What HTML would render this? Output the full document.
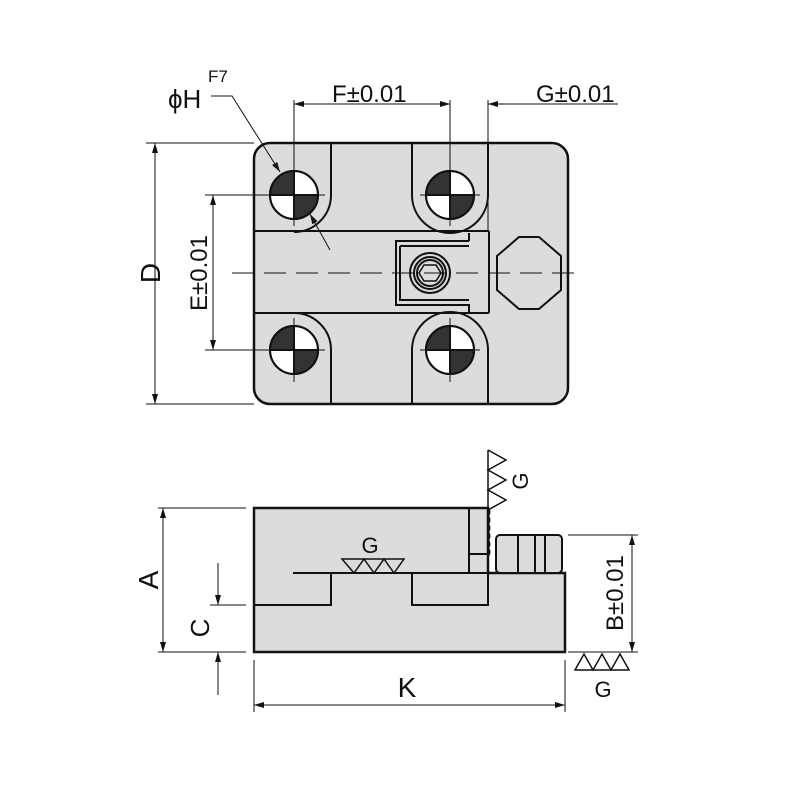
<!DOCTYPE html>
<html><head><style>body{margin:0;background:#fff}svg{display:block}text{font-family:"Liberation Sans",sans-serif;fill:#111}</style></head><body>
<svg width="800" height="800" viewBox="0 0 800 800" xmlns="http://www.w3.org/2000/svg">
<defs>
<marker id="a" viewBox="0 0 10 6" refX="10" refY="3" markerWidth="16" markerHeight="6" markerUnits="userSpaceOnUse" orient="auto-start-reverse"><path d="M0,0L10,3L0,6z" fill="#111"/></marker>
<g id="h" stroke="#111" stroke-width="2"><circle cx="0" cy="0" r="24" fill="#fff"/><path d="M-24,0A24,24 0 0 1 0,-24V0z" fill="#333"/><path d="M24,0A24,24 0 0 1 0,24V0z" fill="#333"/><circle cx="0" cy="0" r="24" fill="none"/></g>
</defs>
<g stroke="#111" fill="none">
<rect x="254" y="143" width="314" height="261" rx="16" fill="#dcdcdc" stroke-width="2.5"/>
<g stroke-width="2">
<path d="M331,143V195A37,37 0 0 1 294,232"/>
<path d="M412,143V195A38,38 0 0 0 488,195V143"/>
<path d="M254,231H489M254,313H489M489,231V313"/>
<path d="M331,404V350A37,37 0 0 0 294,313"/>
<path d="M412,404V350A38,38 0 0 1 488,350V404"/>
<path d="M469,241H396V305H469V313M469,241V233"/>
<path d="M400,246H469M400,246V300H469"/>
<circle cx="430" cy="273" r="20"/><circle cx="430" cy="273" r="16"/><circle cx="430" cy="273" r="13"/>
<path d="M419,273l5,-8h12l5,8l-5,8h-12z" stroke-width="1.5"/>
<path d="M519,237H539L561,256V290L539,309H519L497,290V256z"/>
</g>
</g>
<use href="#h" x="294" y="195"/><use href="#h" x="450" y="195"/><use href="#h" x="294" y="350"/><use href="#h" x="450" y="350"/>
<g stroke="#111" fill="none">
<g stroke-width="1">
<path d="M294,100V226M450,100V226M488,100V230M264,195H325M420,195H480M264,350H325M420,350H480M294,318V382M450,318V382"/>
<path d="M232,273H575" stroke-dasharray="22,10"/>
<path d="M146,143H254M146,404H254M205,195H264M205,350H264"/>
<path d="M155,143V404" marker-start="url(#a)" marker-end="url(#a)"/>
<path d="M213,195V350" marker-start="url(#a)" marker-end="url(#a)"/>
<path d="M294,104H450" marker-start="url(#a)" marker-end="url(#a)"/>
<path d="M618,104H488" marker-end="url(#a)"/>
<path d="M211,96H232L280,172" marker-end="url(#a)"/>
<path d="M330,250L310,214" marker-end="url(#a)"/>
</g>
<path d="M254,508H488V573H565V652H254z" fill="#dcdcdc" stroke-width="2.5"/>
<g stroke-width="2">
<path d="M293,573H565M254,605H331V573M412,573V605H488V573M469,508V573M469,554H488"/>
<rect x="496" y="535" width="66" height="38" rx="4" fill="#dcdcdc"/>
<path d="M518,535V573M535,535V573M545,535V573"/>
<path d="M488,508q3,4 0,8q3,4 0,8q3,4 0,8q3,4 0,8q3,4 0,8q3,4 0,8"/>
</g>
<g stroke-width="1.5">
<path d="M342,559h62l-10,14l-10,-14l-10,14l-10,-14l-10,14z"/>
<path d="M488,508V450M488,450l18,10l-18,10l18,10l-18,10l18,10l-18,10"/>
<path d="M575,670h54l-9,-16l-9,16l-9,-16l-9,16l-9,-16z"/>
</g>
<g stroke-width="1">
<path d="M158,508H246M158,652H246M210,605H246M254,660V712M565,660V712M568,535H638M568,652H638"/>
<path d="M163,508V652" marker-start="url(#a)" marker-end="url(#a)"/>
<path d="M218,563V605" marker-end="url(#a)"/>
<path d="M218,695V652" marker-end="url(#a)"/>
<path d="M254,705H565" marker-start="url(#a)" marker-end="url(#a)"/>
<path d="M632,535V652" marker-start="url(#a)" marker-end="url(#a)"/>
</g>
</g>
<text x="168" y="108" font-size="26">ϕH</text>
<text x="208" y="82" font-size="17">F7</text>
<text x="332" y="102" font-size="24">F±0.01</text>
<text x="536" y="102" font-size="24">G±0.01</text>
<text x="150" y="273" font-size="28" text-anchor="middle" transform="rotate(-90 150 273)" dy="10">D</text>
<text x="199" y="273" font-size="24" text-anchor="middle" transform="rotate(-90 199 273)" dy="8">E±0.01</text>
<text x="148" y="580" font-size="28" text-anchor="middle" transform="rotate(-90 148 580)" dy="10">A</text>
<text x="200" y="628" font-size="26" text-anchor="middle" transform="rotate(-90 200 628)" dy="9">C</text>
<text x="615" y="593" font-size="24" text-anchor="middle" transform="rotate(-90 615 593)" dy="8">B±0.01</text>
<text x="407" y="697" font-size="28" text-anchor="middle">K</text>
<text x="370" y="553" font-size="22" text-anchor="middle">G</text>
<text x="603" y="697" font-size="22" text-anchor="middle">G</text>
<text x="520" y="481" font-size="22" text-anchor="middle" transform="rotate(-90 520 481)" dy="8">G</text>
</svg>
</body></html>
